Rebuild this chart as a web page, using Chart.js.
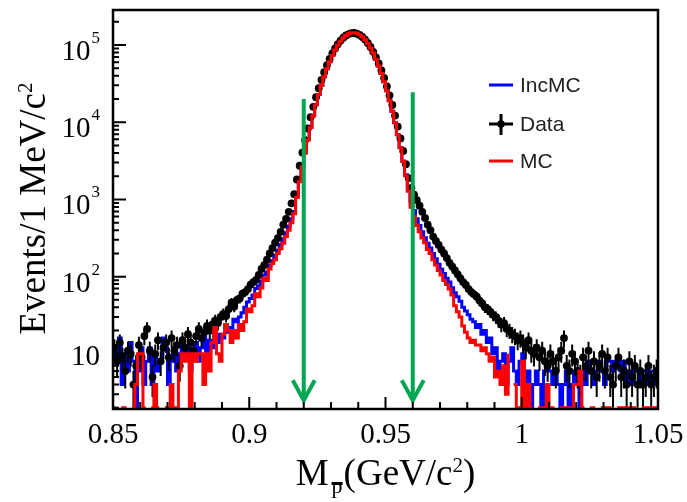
<!DOCTYPE html>
<html>
<head>
<meta charset="utf-8">
<script src="https://cdn.jsdelivr.net/npm/chart.js@4.4.1/dist/chart.umd.min.js"></script>
<style>
  html, body { margin: 0; padding: 0; background: #fff; }
  #wrap { width: 687px; height: 502px; position: relative; }
</style>
</head>
<body>
<div id="wrap"><canvas id="massChart"></canvas></div>
<script>
// 1 MeV bins from 0.85 to 1.05 GeV/c^2
const binLow = 0.85;
const binWidth = 0.001;

const dataCounts = [
  12, 8, 14, 9, 6, 11, 10, 4, 7, 13, 9, 17, 21, 11, 5, 10, 15, 8, 12, 14,
  9, 16, 11, 13, 7, 15, 12, 18, 14, 11, 17, 21, 16, 19, 23, 20,
  24, 27, 25, 30, 33, 31, 38, 46, 41, 50, 52, 60, 63, 69, 79, 85, 91, 105, 126, 141,
  166, 200, 234, 275, 316, 380, 470, 560, 690, 890,
  1170, 1810, 2730, 4040, 5850, 8320, 11600, 15800, 21100, 27600,
  35400, 44500, 54700, 66100, 78000, 90400, 102500, 114000, 124200, 132700,
  138700, 142200, 143000,
  140300, 135200, 127400, 117700, 106400, 94200, 81700, 69300, 57700, 46900,
  37400, 29200, 22300, 16700, 12200, 8770, 6170, 4250, 2860, 1890,
  1410, 1150, 980, 830, 690, 575, 470, 400, 330, 290,
  257, 224, 200, 174, 151, 135, 120, 107, 95, 85,
  78, 69, 63, 59, 55, 49, 45, 40, 38, 35,
  32, 30, 27, 24, 25, 21, 20, 18, 17, 15, 16,
  14, 12, 15, 11, 10, 12, 9, 11, 8, 7, 10, 8, 6, 9, 11, 16, 7, 6, 10, 8,
  6, 5, 9, 7, 11, 6, 8, 5, 7, 10, 6, 9, 5, 4, 7, 9, 5, 6, 4, 8,
  5, 7, 4, 6, 4, 5, 7, 4, 5, 6
];

const mcCounts = [
  2, 2, 0, 2, 2, 2, 0, 2, 4, 10, 10, 2, 2, 0, 2, 4, 2, 2, 0, 2,
  2, 4, 2, 2, 6, 10, 8, 10, 2, 10, 8, 10, 10, 4, 10, 6, 14, 22, 10, 8,
  18, 24, 20, 14, 20, 16,
  24, 20, 26, 38, 35, 42, 60, 55, 71, 95, 89, 126, 148, 166, 200, 230, 270, 330, 400, 500,
  650, 1060, 1690, 2620, 3980, 5900, 8550, 12100, 16800, 22800,
  30100, 38900, 49100, 60700, 73300, 86300, 99500, 112200, 123600, 133000,
  140000, 143800, 144500,
  141900, 136100, 127600, 116900, 104700, 91600, 78500, 65600, 53600, 42900,
  33400, 25500, 19000, 13900, 9860, 6870, 4680, 3100, 2020, 1280, 790,
  600, 460, 380, 316, 275, 224, 200, 166, 141, 120,
  105, 89, 79, 69, 58, 42, 35, 30, 23, 19,
  16, 14, 15, 13, 13, 11, 12, 10, 8, 9,
  5, 6, 4, 7, 3, 10,
  0, 4, 2, 2, 8, 2, 4, 2, 2, 0, 2, 2, 2, 4, 2, 2, 2, 0, 2, 2,
  2, 2, 2, 4, 4, 6, 2, 2, 0, 2, 2, 2, 0, 2, 2, 2, 2, 2, 0, 2,
  2, 2, 2, 2, 2, 2, 2, 0, 2, 2, 2, 2, 2, 2
];

const incMcCounts = [
  12, 8, 16, 4, 10, 6, 14, 8, 2, 6, 12, 4, 8, 12, 4, 10, 6, 8, 16, 12,
  4, 8, 12, 6, 10, 14, 9, 12, 6, 10, 14, 8, 12, 17, 10, 15, 12, 20, 14, 18,
  16, 24, 19, 22, 28, 26,
  30, 34, 40, 47, 52, 58, 70, 76, 88, 105, 115, 140, 160, 190, 220, 260, 310, 370, 450, 560,
  700, 1120, 1750, 2680, 4030, 5950, 8600, 12100, 16800, 22800,
  30100, 38900, 49100, 60700, 73300, 86300, 99500, 112200, 123600, 133000,
  140000, 143800, 144500,
  141900, 136100, 127600, 116900, 104700, 91600, 78500, 65600, 53600, 42900,
  33400, 25500, 19000, 13900, 9860, 6870, 4700, 3150, 2080, 1350, 950,
  720, 560, 460, 380, 320, 270, 235, 200, 170, 145,
  125, 110, 95, 85, 72, 62, 55, 48, 40, 36,
  32, 28, 26, 22, 24, 18, 20, 14, 16, 10,
  12, 6, 8, 10, 4, 8,
  12, 6, 4, 8, 10, 4, 6, 2, 4, 6, 4, 2, 6, 8, 6, 4, 6, 4, 2, 4,
  6, 2, 4, 6, 4, 2, 6, 4, 8, 6, 4, 6, 8, 6, 4, 8, 8, 6, 8, 8,
  6, 8, 4, 6, 4, 6, 6, 4, 6, 6, 4, 6, 6, 4
];

const xTickValues = [0.85, 0.9, 0.95, 1, 1.05];
const xTickLabels = ['0.85', '0.9', '0.95', '1', '1.05'];
const yTickValues = [10, 100, 1000, 10000, 100000];
const yTickExps = ['', '2', '3', '4', '5'];

// signal window cuts
const cutValues = [0.92, 0.96];
const cutTops = [2.0e4, 2.45e4];
const cutTip = 2.5;

const legendNames = ['IncMC', 'Data', 'MC'];
const legendColors = ['#0000ff', '#000000', '#ff0000'];

const serif = '"Liberation Serif", "Times New Roman", serif';
const sans = '"Liberation Sans", Arial, sans-serif';

// histogram outline: one point per lower bin edge, plus the closing edge
function histPoints(counts) {
  const pts = counts.map((c, i) => ({ x: binLow + i * binWidth, y: c }));
  pts.push({ x: binLow + counts.length * binWidth, y: counts[counts.length - 1] });
  return pts;
}
const dataPoints = dataCounts.map((c, i) => ({ x: binLow + (i + 0.5) * binWidth, y: c }));

// draws text pieces [text, font, dy, gap] one after another, centred on cx
function drawPieces(ctx, pieces, cx, base) {
  let total = 0;
  pieces.forEach(p => { ctx.font = p[1]; total += ctx.measureText(p[0]).width + (p[3] || 0); });
  let cur = cx - total / 2;
  const spots = [];
  pieces.forEach(p => {
    ctx.font = p[1];
    ctx.textAlign = 'left';
    ctx.textBaseline = 'alphabetic';
    ctx.fillText(p[0], cur, base + p[2]);
    const w = ctx.measureText(p[0]).width;
    spots.push({ x: cur, w: w });
    cur += w + (p[3] || 0);
  });
  return spots;
}

const decorations = {
  id: 'decorations',
  beforeDatasetDraw(chart, args) {
    if (chart.data.datasets[args.index].label !== 'Data') return;
    const { ctx, chartArea: a, scales: { x, y } } = chart;
    ctx.save();
    ctx.beginPath();
    ctx.rect(a.left, a.top, a.right - a.left, a.bottom - a.top);
    ctx.clip();
    ctx.strokeStyle = '#000';
    ctx.lineWidth = 2;
    ctx.beginPath();
    dataPoints.forEach(p => {
      const err = Math.sqrt(p.y);
      const px = x.getPixelForValue(p.x);
      const lo = p.y - err > 0 ? y.getPixelForValue(p.y - err) : a.bottom;
      ctx.moveTo(px, y.getPixelForValue(p.y + err));
      ctx.lineTo(px, lo);
    });
    ctx.stroke();
    ctx.restore();
  },
  afterDatasetsDraw(chart) {
    const { ctx, scales: { x, y } } = chart;
    ctx.save();
    ctx.strokeStyle = '#00a651';
    ctx.lineWidth = 4;
    ctx.lineCap = 'butt';
    cutValues.forEach((v, k) => {
      const px = x.getPixelForValue(v);
      const top = y.getPixelForValue(cutTops[k]);
      const tip = y.getPixelForValue(cutTip);
      ctx.beginPath();
      ctx.moveTo(px, top);
      ctx.lineTo(px, tip - 2);
      ctx.stroke();
      ctx.beginPath();
      ctx.moveTo(px - 11, tip - 20);
      ctx.lineTo(px, tip);
      ctx.lineTo(px + 11, tip - 20);
      ctx.stroke();
    });
    ctx.restore();
  },
  afterDraw(chart) {
    const { ctx, chartArea: a, scales: { x, y } } = chart;
    ctx.save();
    ctx.fillStyle = '#000';
    ctx.strokeStyle = '#000';

    // ticks inside the frame
    ctx.lineWidth = 2;
    ctx.beginPath();
    for (let k = 0; k <= 20; k++) {
      const px = x.getPixelForValue(binLow + k * 0.01);
      ctx.moveTo(px, a.bottom);
      ctx.lineTo(px, a.bottom - (k % 5 === 0 ? 12 : 7));
    }
    for (let e = 0; e <= 5; e++) {
      for (let m = 1; m <= 9; m++) {
        const v = m * Math.pow(10, e);
        if (v < y.min || v > y.max) continue;
        const py = y.getPixelForValue(v);
        ctx.moveTo(a.left, py);
        ctx.lineTo(a.left + (m === 1 ? 13 : 6), py);
      }
    }
    ctx.stroke();

    // frame
    ctx.lineWidth = 2.5;
    ctx.strokeRect(a.left, a.top, a.right - a.left, a.bottom - a.top);

    // x tick labels
    ctx.font = '29px ' + serif;
    ctx.textAlign = 'center';
    ctx.textBaseline = 'alphabetic';
    xTickValues.forEach((v, k) => {
      ctx.fillText(xTickLabels[k], x.getPixelForValue(v), a.bottom + 34);
    });

    // y tick labels, powers of ten
    const right = a.left - 13;
    yTickValues.forEach((v, k) => {
      const py = y.getPixelForValue(v);
      const exp = yTickExps[k];
      ctx.textAlign = 'right';
      if (exp) {
        ctx.font = '17px ' + serif;
        const ew = ctx.measureText(exp).width;
        ctx.fillText(exp, right, py - 2);
        ctx.font = '29px ' + serif;
        ctx.fillText('10', right - ew - 1, py + 15);
      } else {
        ctx.font = '29px ' + serif;
        ctx.fillText('10', right, py + 11);
      }
    });

    // x title: M with anti-proton subscript
    const big = '37px ' + serif;
    const midX = (a.left + a.right) / 2;
    const spots = drawPieces(ctx, [
      ['M', big, 0, 3],
      ['p', '22px ' + serif, 8, 1],
      ['(GeV/c', big, 0],
      ['2', '21px ' + serif, -13],
      [')', big, 0]
    ], midX, 485);
    ctx.fillRect(spots[1].x, 482, spots[1].w, 3);

    // y title
    ctx.save();
    ctx.translate(45, (a.top + a.bottom) / 2 - 1);
    ctx.rotate(-Math.PI / 2);
    drawPieces(ctx, [
      ['Events/1 MeV/c', big, 0],
      ['2', '21px ' + serif, -13]
    ], 0, 0);
    ctx.restore();

    // legend
    const lx = 489, lw = 24;
    const rows = [85, 124, 161];
    ctx.font = '21px ' + sans;
    ctx.textAlign = 'left';
    ctx.textBaseline = 'middle';
    legendNames.forEach((name, k) => {
      const ly = rows[k];
      ctx.strokeStyle = legendColors[k];
      ctx.lineWidth = 3;
      ctx.beginPath();
      ctx.moveTo(lx, ly);
      ctx.lineTo(lx + lw, ly);
      if (name === 'Data') {
        ctx.moveTo(lx + lw / 2, ly - 10);
        ctx.lineTo(lx + lw / 2, ly + 11);
      }
      ctx.stroke();
      if (name === 'Data') {
        ctx.beginPath();
        ctx.arc(lx + lw / 2, ly, 3.8, 0, Math.PI * 2);
        ctx.fillStyle = '#000';
        ctx.fill();
      }
      ctx.fillStyle = '#222';
      ctx.fillText(name, lx + lw + 7, ly + 1);
    });
    ctx.restore();
  }
};

new Chart(document.getElementById('massChart'), {
  type: 'line',
  data: {
    datasets: [
      {
        label: 'MC',
        data: histPoints(mcCounts),
        borderColor: '#ff0000',
        borderWidth: 3,
        stepped: true,
        pointRadius: 0,
        fill: false,
        order: 1
      },
      {
        label: 'Data',
        data: dataPoints,
        showLine: false,
        pointRadius: 3.9,
        pointBackgroundColor: '#000',
        pointBorderWidth: 0,
        order: 2
      },
      {
        label: 'IncMC',
        data: histPoints(incMcCounts),
        borderColor: '#0000ff',
        borderWidth: 3,
        stepped: true,
        pointRadius: 0,
        fill: false,
        order: 3
      }
    ]
  },
  options: {
    responsive: true,
    maintainAspectRatio: false,
    animation: false,
    layout: { padding: { top: 10, right: 29, left: 0, bottom: 0 } },
    plugins: { legend: { display: false }, tooltip: { enabled: false } },
    scales: {
      x: {
        type: 'linear',
        min: 0.85,
        max: 1.05,
        ticks: { display: false },
        grid: { display: false },
        border: { display: false },
        afterFit: s => { s.height = 93; }
      },
      y: {
        type: 'logarithmic',
        min: 1.93,
        max: 2.84e5,
        ticks: { display: false },
        grid: { display: false },
        border: { display: false },
        afterFit: s => { s.width = 113; }
      }
    }
  },
  plugins: [decorations]
});
</script>
</body>
</html>
